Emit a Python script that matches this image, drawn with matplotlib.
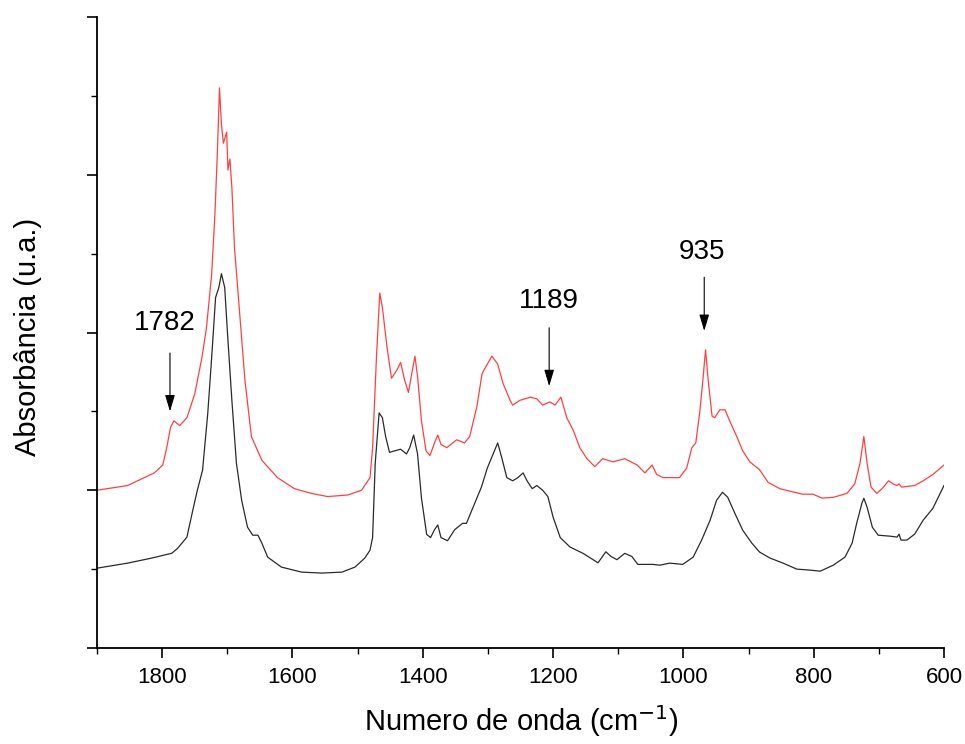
import matplotlib
matplotlib.use("Agg")
import matplotlib.pyplot as plt
from matplotlib.ticker import MultipleLocator, NullFormatter

plt.rcParams['font.family'] = ['Liberation Sans', 'DejaVu Sans']

# Red spectrum (upper trace)
red_wn = [1900, 1853, 1812, 1799, 1793, 1787, 1782, 1773, 1762, 1750, 1739, 1732, 1724,
          1719, 1715, 1712, 1709, 1706, 1701, 1699, 1696, 1693, 1689, 1681, 1673, 1663,
          1647, 1623, 1597, 1571, 1546, 1515, 1494, 1481, 1477, 1471, 1466, 1462, 1455,
          1448, 1440, 1434, 1428, 1422, 1416, 1412, 1408, 1402, 1395, 1389, 1382, 1377,
          1372, 1363, 1348, 1336, 1328, 1317, 1309, 1294, 1285, 1277, 1266, 1262, 1251,
          1235, 1225, 1216, 1205, 1197, 1188, 1179, 1169, 1159, 1148, 1136, 1124, 1108,
          1090, 1071, 1059, 1048, 1041, 1031, 1021, 1006, 995, 987, 981, 975, 970, 966,
          962, 956, 952, 944, 936, 929, 918, 909, 898, 883, 870, 852, 832, 817, 801, 787,
          770, 749, 737, 729, 723, 718, 712, 703, 695, 685, 678, 672, 669, 665, 645, 632,
          617, 600]
red_abs = [1.00, 1.03, 1.11, 1.16, 1.27, 1.40, 1.44, 1.41, 1.46, 1.61, 1.84, 2.03, 2.37,
           2.75, 3.17, 3.55, 3.32, 3.20, 3.27, 3.03, 3.10, 2.92, 2.54, 2.12, 1.70, 1.34,
           1.19, 1.08, 1.01, 0.98, 0.96, 0.97, 1.00, 1.08, 1.27, 1.85, 2.25, 2.16, 1.91,
           1.71, 1.76, 1.81, 1.70, 1.62, 1.76, 1.85, 1.72, 1.44, 1.25, 1.22, 1.30, 1.35,
           1.29, 1.27, 1.32, 1.30, 1.34, 1.53, 1.74, 1.85, 1.80, 1.68, 1.57, 1.54, 1.57,
           1.59, 1.58, 1.54, 1.56, 1.54, 1.59, 1.46, 1.38, 1.27, 1.20, 1.15, 1.20, 1.18,
           1.20, 1.16, 1.11, 1.16, 1.10, 1.08, 1.08, 1.08, 1.14, 1.27, 1.30, 1.49, 1.70,
           1.89, 1.70, 1.47, 1.46, 1.51, 1.51, 1.44, 1.34, 1.25, 1.18, 1.13, 1.05, 1.01,
           0.99, 0.975, 0.975, 0.95, 0.955, 0.98, 1.04, 1.17, 1.34, 1.17, 1.02, 0.98, 1.01,
           1.06, 1.04, 1.03, 1.04, 1.02, 1.03, 1.06, 1.10, 1.16]

# Black spectrum (lower trace)
blk_wn = [1900, 1853, 1816, 1785, 1776, 1762, 1753, 1746, 1738, 1730, 1724, 1718, 1713,
          1709, 1704, 1699, 1693, 1686, 1678, 1669, 1661, 1653, 1647, 1638, 1617, 1586,
          1555, 1524, 1504, 1489, 1481, 1477, 1473, 1467, 1462, 1457, 1451, 1443, 1434,
          1425, 1420, 1414, 1408, 1402, 1394, 1388, 1382, 1377, 1372, 1362, 1351, 1339,
          1333, 1323, 1310, 1301, 1290, 1285, 1279, 1271, 1262, 1254, 1246, 1240, 1232,
          1225, 1216, 1208, 1200, 1189, 1174, 1154, 1131, 1119, 1111, 1102, 1090, 1079,
          1070, 1047, 1036, 1021, 1001, 985, 972, 959, 949, 940, 932, 921, 909, 895, 883,
          867, 847, 826, 806, 790, 770, 752, 741, 734, 726, 723, 718, 710, 701, 683, 672,
          669, 666, 657, 645, 632, 617, 600]
blk_abs = [0.506, 0.538, 0.570, 0.601, 0.633, 0.703, 0.873, 1.00, 1.127, 1.487, 1.842,
           2.222, 2.285, 2.373, 2.285, 1.949, 1.570, 1.171, 0.937, 0.766, 0.715, 0.715,
           0.665, 0.576, 0.513, 0.481, 0.475, 0.481, 0.513, 0.570, 0.62, 0.70, 1.17, 1.49,
           1.46, 1.34, 1.24, 1.25, 1.26, 1.23, 1.27, 1.35, 1.23, 0.95, 0.72, 0.70, 0.75,
           0.78, 0.70, 0.68, 0.75, 0.79, 0.79, 0.89, 1.02, 1.14, 1.25, 1.30, 1.21, 1.08,
           1.06, 1.08, 1.11, 1.06, 1.01, 1.03, 1.00, 0.96, 0.83, 0.70, 0.64, 0.60, 0.54,
           0.61, 0.58, 0.56, 0.60, 0.58, 0.53, 0.53, 0.525, 0.538, 0.53, 0.576, 0.684,
           0.81, 0.937, 0.987, 0.956, 0.854, 0.747, 0.665, 0.608, 0.570, 0.538, 0.50,
           0.494, 0.487, 0.525, 0.576, 0.665, 0.791, 0.918, 0.949, 0.892, 0.766, 0.715,
           0.709, 0.703, 0.722, 0.684, 0.684, 0.722, 0.81, 0.886, 1.03]

# Annotations: label, arrow x (wavenumber), text x, text y, arrow start y, arrow end y
ann_labels = ['1782', '1189', '935']
ann_arrow_x = [1788, 1206, 968]
ann_text_x = [1796, 1206, 971]
ann_text_y = [2.06, 2.20, 2.51]
ann_y0 = [1.87, 2.03, 2.35]
ann_y1 = [1.50, 1.66, 2.01]

xticks = [1800, 1600, 1400, 1200, 1000, 800, 600]

fig = plt.figure(figsize=(9.65, 7.44), dpi=100)
ax = fig.add_axes([97/965, 1 - 648/744, (944 - 97)/965, (648 - 17)/744])

ax.plot(red_wn, red_abs, color='#ff4040', lw=0.9)
ax.plot(blk_wn, blk_abs, color='#2a2a2a', lw=0.9)

for lab, xa, xt, yt, y0, y1 in zip(ann_labels, ann_arrow_x, ann_text_x, ann_text_y, ann_y0, ann_y1):
    ax.text(xt, yt, lab, ha='center', va='center', fontsize=20, color='black')
    ax.annotate('', xy=(xa, y1), xytext=(xa, y0),
                arrowprops=dict(arrowstyle='-|>,head_length=1.0,head_width=0.3',
                                mutation_scale=10, lw=0.8, color='black',
                                shrinkA=0, shrinkB=0))

ax.set_xlim(1900, 600)
ax.set_ylim(0, 4)
ax.set_xticks(xticks)
ax.set_xticklabels([str(t) for t in xticks])
ax.xaxis.set_minor_locator(MultipleLocator(100))
ax.yaxis.set_major_locator(MultipleLocator(1))
ax.yaxis.set_minor_locator(MultipleLocator(0.5))
ax.yaxis.set_major_formatter(NullFormatter())

for s in ['top', 'right']:
    ax.spines[s].set_visible(False)
for s in ['left', 'bottom']:
    ax.spines[s].set_linewidth(1.3)

ax.tick_params(which='major', direction='out', length=7, width=1.2, labelsize=16, pad=7)
ax.tick_params(which='minor', direction='out', length=4, width=1.0)

fig.text(521/965, 1 - 721/744, 'Numero de onda (cm$^{-1}$)', fontsize=21,
         ha='center', va='center')
fig.text(28/965, 1 - 337/744, 'Absorbância (u.a.)', fontsize=21,
         ha='center', va='center', rotation=90)

fig.savefig('out.png', dpi=100)
